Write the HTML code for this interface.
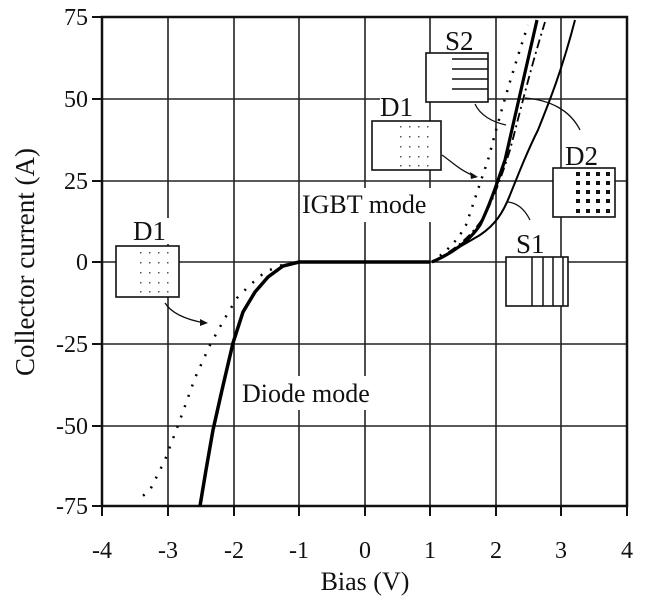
<!DOCTYPE html>
<html><head><meta charset="utf-8"><style>body{margin:0;background:#fff}svg{display:block}text{font-family:"Liberation Serif",serif;fill:#111}</style></head>
<body>
<svg width="650" height="605" viewBox="0 0 650 605" xmlns="http://www.w3.org/2000/svg">
<defs>
<g id="sd" fill="#555"><rect x="0" y="0" width="1.5" height="1.5"/><rect x="9" y="0" width="1.5" height="1.5"/><rect x="18" y="0" width="1.5" height="1.5"/><rect x="27" y="0" width="1.5" height="1.5"/></g>
<g id="bd" fill="#111"><rect x="0" y="0" width="4" height="4"/><rect x="10" y="0" width="4" height="4"/><rect x="20" y="0" width="4" height="4"/><rect x="30" y="0" width="4" height="4"/></g>
</defs>
<g stroke="#222" stroke-width="1.6" fill="none">
<path d="M168 17V506M234 17V506M299 17V506M365 17V506M430 17V506M496 17V506M561 17V506"/>
<path d="M102 99H627M102 181H627M102 262H627M102 344H627M102 426H627"/>
</g>
<g fill="#fff">
<rect x="300" y="188" width="148" height="34"/>
<rect x="238" y="376" width="142" height="34"/>
<rect x="128" y="218" width="42" height="26"/>
<rect x="440" y="26" width="52" height="26"/>
<rect x="380" y="92" width="46" height="28"/>
<rect x="562" y="142" width="52" height="26"/>
<rect x="514" y="230" width="40" height="26"/>
</g>
<rect x="102" y="17" width="525" height="489" fill="none" stroke="#111" stroke-width="2.5"/>
<g stroke="#111" stroke-width="2">
<path d="M102 506v10M168 506v10M234 506v10M299 506v10M365 506v10M430 506v10M496 506v10M561 506v10M627 506v10"/>
<path d="M92 17h10M92 99h10M92 181h10M92 262h10M92 344h10M92 426h10M92 506h10"/>
</g>
<g font-size="24" text-anchor="end">
<text x="88" y="25">75</text><text x="88" y="107">50</text><text x="88" y="189">25</text><text x="88" y="270">0</text><text x="88" y="352">-25</text><text x="88" y="434">-50</text><text x="88" y="514">-75</text>
</g>
<g font-size="24" text-anchor="middle">
<text x="102" y="558">-4</text><text x="168" y="558">-3</text><text x="234" y="558">-2</text><text x="299" y="558">-1</text><text x="365" y="558">0</text><text x="430" y="558">1</text><text x="496" y="558">2</text><text x="561" y="558">3</text><text x="627" y="558">4</text>
<text x="365" y="590" font-size="26">Bias (V)</text>
<text transform="translate(34 262) rotate(-90)" font-size="27">Collector current (A)</text>
</g>
<g font-size="26">
<text x="242" y="402">Diode mode</text>
<text x="302" y="213">IGBT mode</text>
</g>
<g font-size="27">
<text x="133" y="240">D1</text>
<text x="445" y="50">S2</text>
<text x="380" y="116">D1</text>
<text x="565" y="165">D2</text>
<text x="516" y="253">S1</text>
</g>
<g fill="none" stroke="#000">
<path d="M200 506 L206 470 L213 430 L222 390 L233 343 L243 312 L255 292 L268 277 L283 266 L299 262 L430 262" stroke-width="3.5"/>
<path d="M282 265 L265 272 L250 285 L237 298 L225 318 L210 345 L195 378 L180 420 L165 460 L150 490 L138 500" stroke-width="2.5" stroke-dasharray="2 9"/>
<path d="M432 262 C455 252 470 240 480 225 C490 205 498 180 505 160 C512 130 522 85 537 20" stroke-width="3.2"/>
<path d="M432 262 C455 250 472 236 485 215 C495 195 502 175 510 150 C518 120 530 70 545 22" stroke-width="1.8" stroke-dasharray="9 4 2 4"/>
<path d="M432 262 C448 250 458 240 466 225 C473 205 480 183 488 160 C496 130 508 85 528 25" stroke-width="2.5" stroke-dasharray="2 8"/>
<path d="M432 262 C455 250 468 242 480 235 C495 225 503 213 510 195 C520 170 528 150 538 130 C550 100 562 70 575 20" stroke-width="2"/>
</g>
<g stroke="#111" stroke-width="1.6" fill="#fff">
<rect x="426" y="53" width="62" height="49"/>
<rect x="372" y="121" width="69" height="49"/>
<rect x="553" y="168" width="62" height="49"/>
<rect x="506" y="257" width="62" height="49"/>
<rect x="116" y="246" width="63" height="51"/>
</g>
<g stroke="#111" stroke-width="1.5">
<path d="M452 59H488M452 69H488M452 79H488M452 89H488"/>
<path d="M532 257V306M543 257V306M553 257V306M563 257V306"/>
</g>
<use href="#sd" x="400" y="126"/><use href="#sd" x="400" y="136"/><use href="#sd" x="400" y="146"/><use href="#sd" x="400" y="156"/><use href="#sd" x="400" y="165"/>
<use href="#sd" x="140" y="252"/><use href="#sd" x="140" y="262"/><use href="#sd" x="140" y="272"/><use href="#sd" x="140" y="282"/><use href="#sd" x="140" y="291"/>
<use href="#bd" x="576" y="172"/><use href="#bd" x="576" y="181"/><use href="#bd" x="576" y="190"/><use href="#bd" x="576" y="199"/><use href="#bd" x="576" y="209"/>
<g fill="none" stroke="#111" stroke-width="1.3">
<path d="M475 104 C480 115 492 122 506 125"/>
<path d="M442 155 C452 162 462 172 475 176"/>
<path d="M580 130 C570 110 550 100 525 98"/>
<path d="M530 220 C525 210 518 203 508 202"/>
<path d="M165 303 C172 314 188 320 205 323"/>
</g>
<g fill="#111">
<path d="M478 177 L470 172 L471 179Z"/>
<path d="M208 323 L200 319 L200 326Z"/>
</g>
</svg>
</body></html>
